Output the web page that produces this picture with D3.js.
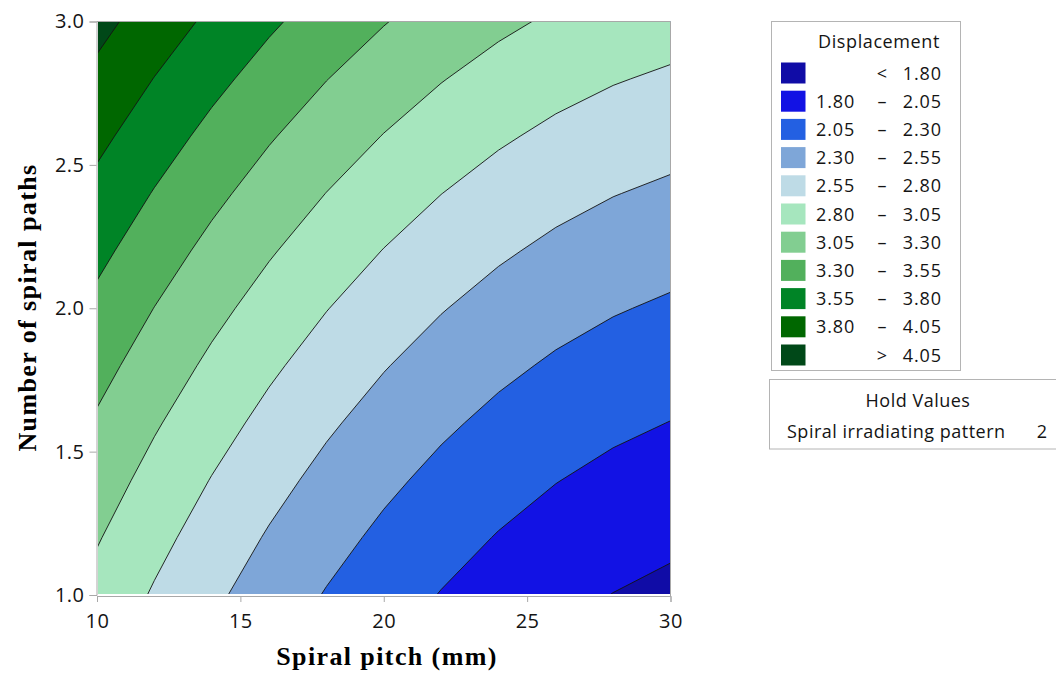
<!DOCTYPE html>
<html>
<head>
<meta charset="utf-8">
<script src="https://cdn.jsdelivr.net/npm/d3@7"></script>
<style>
body { margin: 0; background: #fff; }
</style>
</head>
<body>
<div id="container"></div>
<script>
// grid axes (spiral pitch in mm, number of spiral paths)
var pitch = [10, 12, 14, 16, 18, 20, 22, 24, 26, 28, 30];
var paths = [1.0, 1.2, 1.4, 1.6, 1.8, 2.0, 2.2, 2.4, 2.6, 2.8, 3.0];

// displacement, one row per paths value (1.0 first)
var displacement = [
  [2.972, 2.776, 2.597, 2.433, 2.286, 2.156, 2.041, 1.943, 1.861, 1.796, 1.747],
  [3.067, 2.871, 2.692, 2.528, 2.381, 2.251, 2.136, 2.038, 1.956, 1.891, 1.842],
  [3.167, 2.971, 2.791, 2.628, 2.481, 2.350, 2.236, 2.138, 2.056, 1.991, 1.941],
  [3.271, 3.075, 2.896, 2.732, 2.585, 2.455, 2.340, 2.242, 2.160, 2.095, 2.046],
  [3.380, 3.184, 3.004, 2.841, 2.694, 2.563, 2.449, 2.351, 2.269, 2.203, 2.154],
  [3.493, 3.297, 3.117, 2.954, 2.807, 2.676, 2.562, 2.464, 2.382, 2.317, 2.267],
  [3.611, 3.415, 3.235, 3.072, 2.925, 2.794, 2.680, 2.582, 2.500, 2.434, 2.385],
  [3.733, 3.537, 3.358, 3.194, 3.047, 2.917, 2.802, 2.704, 2.622, 2.557, 2.508],
  [3.860, 3.664, 3.484, 3.321, 3.174, 3.043, 2.929, 2.831, 2.749, 2.684, 2.634],
  [3.991, 3.795, 3.616, 3.452, 3.305, 3.175, 3.060, 2.962, 2.880, 2.815, 2.766],
  [4.127, 3.931, 3.752, 3.588, 3.441, 3.311, 3.196, 3.098, 3.016, 2.951, 2.902]
];

// contour levels and band colours (lowest band first)
var levels = [1.80, 2.05, 2.30, 2.55, 2.80, 3.05, 3.30, 3.55, 3.80, 4.05];
var bandColors = ['#100ca6', '#1212e4', '#2360e2', '#7ea6d8', '#bedbe6', '#a6e6be',
                  '#82ce91', '#52b05c', '#008426', '#006700', '#004818'];

var xTicks = [10, 15, 20, 25, 30];
var yTicks = [1.0, 1.5, 2.0, 2.5, 3.0];

var holdName = "Spiral irradiating pattern";
var holdValue = "2";

var W = 1056, H = 675;
var plot = {left: 97, right: 670.5, top: 21.5, bottom: 595};

var svg = d3.select("#container")
  .append("svg")
  .attr("width", W)
  .attr("height", H)
  .style("font-family", "'Open Sans', 'Noto Sans', sans-serif");

// scales
var x = d3.scaleLinear().domain([10, 30]).range([plot.left, plot.right]);
var y = d3.scaleLinear().domain([1, 3]).range([plot.bottom, plot.top]);

// clip to the plot area
svg.append("clipPath").attr("id", "plotclip")
  .append("rect")
  .attr("x", 98).attr("y", plot.top)
  .attr("width", plot.right - 98).attr("height", 594 - plot.top);

// contours
var n = pitch.length, m = paths.length;
var values = [];
displacement.forEach(function(row) { row.forEach(function(v) { values.push(v); }); });

var contours = d3.contours().size([n, m]).thresholds(levels)(values);
var stepX = pitch[1] - pitch[0], stepY = paths[1] - paths[0];
var toPlot = d3.geoTransform({
  point: function(px, py) {
    this.stream.point(x(pitch[0] + (px - 0.5) * stepX), y(paths[0] + (py - 0.5) * stepY));
  }
});
var path = d3.geoPath(toPlot);

var g = svg.append("g").attr("clip-path", "url(#plotclip)");

// lowest band as background
g.append("rect")
  .attr("x", 98).attr("y", plot.top)
  .attr("width", plot.right - 98).attr("height", 594 - plot.top)
  .attr("fill", bandColors[0]);

g.selectAll("path.band")
  .data(contours)
  .enter().append("path")
  .attr("class", "band")
  .attr("d", path)
  .attr("fill", function(d, i) { return bandColors[i + 1]; });

g.selectAll("path.line")
  .data(contours)
  .enter().append("path")
  .attr("class", "line")
  .attr("d", path)
  .attr("fill", "none")
  .attr("stroke", "#141414")
  .attr("stroke-opacity", 0.9)
  .attr("stroke-width", 1);

// frame
var frameColor = "#a8a8a8";
svg.append("line").attr("x1", 96.5).attr("x2", plot.right).attr("y1", plot.top).attr("y2", plot.top)
  .attr("stroke", frameColor);
svg.append("line").attr("x1", plot.right).attr("x2", plot.right).attr("y1", plot.top).attr("y2", 596.5)
  .attr("stroke", frameColor);

// axes
var xAxis = svg.append("g")
  .attr("transform", "translate(0,596)")
  .call(d3.axisBottom(x).tickValues(xTicks).tickSize(6).tickPadding(12).tickFormat(d3.format("d")));
var yAxis = svg.append("g")
  .attr("transform", "translate(96.5,0)")
  .call(d3.axisLeft(y).tickValues(yTicks).tickSize(7).tickPadding(5).tickFormat(d3.format(".1f")));

[xAxis, yAxis].forEach(function(a) {
  a.select(".domain").attr("stroke", frameColor);
  a.selectAll(".tick line").attr("stroke", frameColor);
  a.selectAll(".tick text")
    .attr("fill", "#141414")
    .style("font-size", "20px")
    .style("letter-spacing", "0.5px")
    .style("font-family", "'Open Sans', 'Noto Sans', sans-serif");
});

// axis titles
svg.append("text")
  .attr("x", 387).attr("y", 665)
  .attr("text-anchor", "middle")
  .style("font-family", "'Liberation Serif', 'Times New Roman', serif")
  .style("font-weight", "bold")
  .style("font-size", "26px")
  .style("letter-spacing", "1.4px")
  .text("Spiral pitch (mm)");

svg.append("text")
  .attr("transform", "translate(36,307.5) rotate(-90)")
  .attr("text-anchor", "middle")
  .style("font-family", "'Liberation Serif', 'Times New Roman', serif")
  .style("font-weight", "bold")
  .style("font-size", "26px")
  .style("letter-spacing", "1.4px")
  .text("Number of spiral paths");

// legend
var legend = svg.append("g");
legend.append("rect")
  .attr("x", 771.5).attr("y", 21.5).attr("width", 189).attr("height", 349)
  .attr("fill", "#fff").attr("stroke", "#b4b4b4");

legend.append("text")
  .attr("x", 879).attr("y", 48)
  .attr("text-anchor", "middle")
  .style("font-size", "18px")
  .style("letter-spacing", "0.6px")
  .attr("fill", "#141414")
  .text("Displacement");

var rows = bandColors.map(function(c, i) {
  if (i === 0) return {color: c, low: "", sep: "<", high: levels[0].toFixed(2)};
  if (i === levels.length) return {color: c, low: "", sep: ">", high: levels[i - 1].toFixed(2)};
  return {color: c, low: levels[i - 1].toFixed(2), sep: "\u2013", high: levels[i].toFixed(2)};
});

var row = legend.selectAll("g.row")
  .data(rows)
  .enter().append("g")
  .attr("class", "row")
  .attr("transform", function(d, i) { return "translate(0," + (73 + i * 28.2) + ")"; });

row.append("rect")
  .attr("x", 781).attr("y", -10.5).attr("width", 24.5).attr("height", 21)
  .attr("fill", function(d) { return d.color; });

row.append("text")
  .attr("x", 816).attr("y", 6.5)
  .style("font-size", "18px").style("letter-spacing", "0.9px")
  .attr("fill", "#141414")
  .text(function(d) { return d.low; });

row.append("text")
  .attr("x", 882).attr("y", 6.5)
  .attr("text-anchor", "middle")
  .style("font-size", "18px")
  .attr("fill", "#141414")
  .text(function(d) { return d.sep; });

row.append("text")
  .attr("x", 942).attr("y", 6.5)
  .attr("text-anchor", "end")
  .style("font-size", "18px").style("letter-spacing", "0.9px")
  .attr("fill", "#141414")
  .text(function(d) { return d.high; });

// hold values box
var hold = svg.append("g");
hold.append("rect")
  .attr("x", 769.5).attr("y", 379.5).attr("width", 290).attr("height", 69.5)
  .attr("fill", "#fff").attr("stroke", "#b4b4b4");
hold.append("text")
  .attr("x", 918).attr("y", 407)
  .attr("text-anchor", "middle")
  .style("font-size", "18px").style("letter-spacing", "0.5px")
  .attr("fill", "#141414")
  .text("Hold Values");
hold.append("text")
  .attr("x", 787).attr("y", 438)
  .style("font-size", "18px").style("letter-spacing", "0.5px")
  .attr("fill", "#141414")
  .text(holdName);
hold.append("text")
  .attr("x", 1047).attr("y", 438)
  .attr("text-anchor", "end")
  .style("font-size", "18px")
  .attr("fill", "#141414")
  .text(holdValue);
</script>
</body>
</html>
